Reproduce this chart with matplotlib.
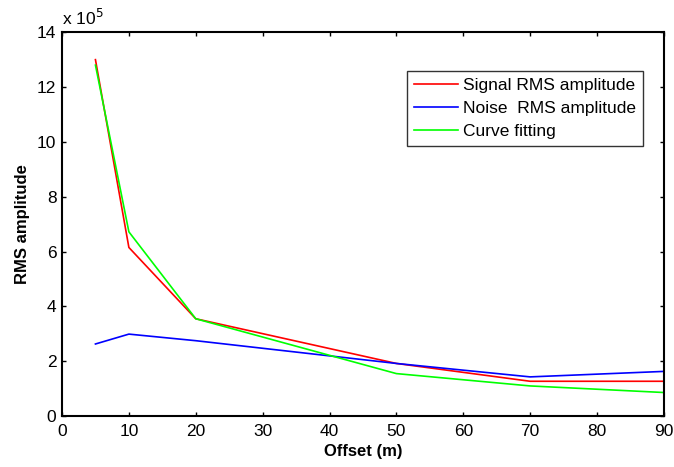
import matplotlib
matplotlib.use("Agg")
import matplotlib.pyplot as plt

plt.rcParams['font.family'] = ['Liberation Sans', 'DejaVu Sans']

# offsets (m) and amplitudes (x 1e5)
offset = [5, 10, 20, 50, 70, 90]
signal_rms = [13.0, 6.15, 3.55, 1.92, 1.27, 1.27]
noise_rms = [2.63, 2.99, 2.75, 1.92, 1.43, 1.63]
curve_fit = [12.8, 6.72, 3.55, 1.55, 1.1, 0.86]

fig = plt.figure(figsize=(6.74, 4.67), dpi=100)
ax = fig.add_axes([0.092, 0.109, 0.893, 0.822])

ax.plot(offset, signal_rms, color='#ff0000', lw=1.2, label='Signal RMS amplitude')
ax.plot(offset, noise_rms, color='#0000ff', lw=1.2, label='Noise  RMS amplitude')
ax.plot(offset, curve_fit, color='#00ff00', lw=1.2, label='Curve fitting')

ax.set_xlim(0, 90)
ax.set_ylim(0, 14)
ax.set_xticks(range(0, 91, 10))
ax.set_yticks(range(0, 15, 2))
ax.tick_params(direction='in', length=3, width=1, labelsize=12.5,
               top=True, right=True)
ax.tick_params(axis='x', pad=6)
ax.tick_params(axis='y', pad=4)
for s in ax.spines.values():
    s.set_linewidth(1.5)

ax.set_xlabel('Offset (m)', fontsize=12, fontweight='bold', labelpad=3)
ax.set_ylabel('RMS amplitude', fontsize=12, fontweight='bold', labelpad=5)
ax.text(0.0, 1.012, r'x 10$^5$', transform=ax.transAxes, fontsize=12.5,
        ha='left', va='bottom')

leg = ax.legend(loc='upper right', bbox_to_anchor=(0.965, 0.898), fontsize=12.5,
                frameon=True, fancybox=False, handlelength=2.5,
                borderpad=0.4, labelspacing=0.45, handletextpad=0.3,
                borderaxespad=0)
leg.get_frame().set_edgecolor('black')
leg.get_frame().set_linewidth(1)

fig.savefig('out.png', dpi=100)
